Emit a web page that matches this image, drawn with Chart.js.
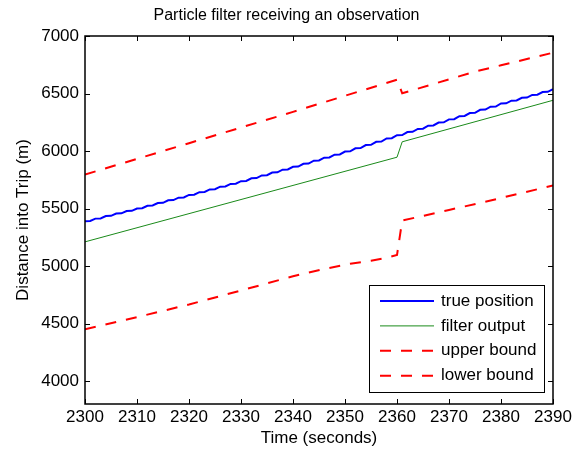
<!DOCTYPE html>
<html><head><meta charset="utf-8">
<script src="https://cdn.jsdelivr.net/npm/chart.js@4.4.1/dist/chart.umd.min.js"></script>
<style>html,body{margin:0;padding:0;background:#fff}#wrap{width:582px;height:454px}</style>
</head><body><div id="wrap"><canvas id="c" width="582" height="454"></canvas></div>
<script>
const xTicks = [2300,2310,2320,2330,2340,2350,2360,2370,2380,2390];
const yTicks = [4000,4500,5000,5500,6000,6500,7000];

const trueTime = [2300,2301,2302,2303,2304,2305,2306,2307,2308,2309,
  2310,2311,2312,2313,2314,2315,2316,2317,2318,2319,
  2320,2321,2322,2323,2324,2325,2326,2327,2328,2329,
  2330,2331,2332,2333,2334,2335,2336,2337,2338,2339,
  2340,2341,2342,2343,2344,2345,2346,2347,2348,2349,
  2350,2351,2352,2353,2354,2355,2356,2357,2358,2359,
  2360,2361,2362,2363,2364,2365,2366,2367,2368,2369,
  2370,2371,2372,2373,2374,2375,2376,2377,2378,2379,
  2380,2381,2382,2383,2384,2385,2386,2387,2388,2389,2390];
const truePosition = [5390,5392,5412,5414,5434,5436,5456,5458,5478,5480,
  5500,5502,5524,5526,5547,5549,5571,5573,5594,5596,
  5618,5620,5642,5644,5666,5668,5690,5692,5714,5716,
  5738,5740,5763,5765,5788,5790,5813,5815,5838,5840,
  5863,5865,5889,5891,5916,5918,5942,5944,5968,5970,
  5995,5997,6023,6025,6052,6054,6080,6082,6109,6111,
  6137,6139,6165,6167,6192,6194,6220,6222,6247,6249,
  6275,6277,6303,6305,6330,6332,6358,6360,6385,6387,
  6413,6415,6438,6440,6463,6465,6488,6490,6513,6515,6538];

const filterTime = [2300,2360,2361,2390];
const filterOutput = [5210,5946,6080,6441];

const upperTime = [2300,2320,2340,2360,2361,2375,2380,2390];
const upperBound = [5795,6068,6340,6620,6502,6690,6745,6855];

const lowerTime = [2300,2310,2320,2330,2340,2346,2351,2355,2358,2360,2361,2370,2378,2390];
const lowerBound = [4450,4555,4665,4787,4911,4974,5020,5045,5071,5095,5395,5487,5570,5700];

const FONT = "'Liberation Sans', Arial, Helvetica, sans-serif";
const zip = (xs, ys) => xs.map((x, i) => ({x: x, y: ys[i]}));

const frame = {
  id: 'frame',
  afterDatasetsDraw(chart) {
    const ctx = chart.ctx, a = chart.chartArea;
    const xs = chart.scales.x, ys = chart.scales.y;
    ctx.save();
    ctx.strokeStyle = '#000';
    ctx.lineWidth = 1;
    ctx.beginPath();
    xs.ticks.forEach(t => {
      const px = Math.round(xs.getPixelForValue(t.value)) + 0.5;
      ctx.moveTo(px, a.bottom); ctx.lineTo(px, a.bottom - 5);
      ctx.moveTo(px, a.top); ctx.lineTo(px, a.top + 5);
    });
    ys.ticks.forEach(t => {
      const py = Math.round(ys.getPixelForValue(t.value)) + 0.5;
      ctx.moveTo(a.left, py); ctx.lineTo(a.left + 5, py);
      ctx.moveTo(a.right, py); ctx.lineTo(a.right - 5, py);
    });
    ctx.stroke();
    ctx.lineWidth = 1.5;
    ctx.strokeRect(a.left, a.top, a.right - a.left, a.bottom - a.top);
    ctx.restore();
  }
};

const legendBox = {
  id: 'legendBox',
  afterDraw(chart) {
    const ctx = chart.ctx, a = chart.chartArea;
    const w = 175, h = 107;
    const x0 = a.right - 9 - w, y0 = a.bottom - 12 - h;
    ctx.save();
    ctx.fillStyle = '#fff';
    ctx.fillRect(x0, y0, w, h);
    ctx.strokeStyle = '#000';
    ctx.lineWidth = 1;
    ctx.strokeRect(Math.round(x0) + 0.5, Math.round(y0) + 0.5, w, h);
    ctx.font = '17px ' + FONT;
    ctx.textBaseline = 'middle';
    ctx.textAlign = 'left';
    chart.data.datasets.forEach((ds, i) => {
      const cy = y0 + 16 + i * 24.9;
      ctx.beginPath();
      ctx.strokeStyle = ds.borderColor;
      ctx.lineWidth = ds.borderWidth;
      ctx.setLineDash(ds.borderDash || []);
      ctx.moveTo(x0 + 11, cy); ctx.lineTo(x0 + 65, cy);
      ctx.stroke();
      ctx.setLineDash([]);
      ctx.fillStyle = '#000';
      ctx.fillText(ds.label, x0 + 72, cy);
    });
    ctx.restore();
  }
};

new Chart(document.getElementById('c'), {
  type: 'line',
  data: {
    datasets: [
      {label: 'true position', data: zip(trueTime, truePosition), borderColor: '#0000ff', borderWidth: 2, pointRadius: 0, tension: 0},
      {label: 'filter output', data: zip(filterTime, filterOutput), borderColor: '#1a8a1a', borderWidth: 1, pointRadius: 0, tension: 0},
      {label: 'upper bound', data: zip(upperTime, upperBound), borderColor: '#ff0000', borderWidth: 2, borderDash: [11, 10], pointRadius: 0, tension: 0},
      {label: 'lower bound', data: zip(lowerTime, lowerBound), borderColor: '#ff0000', borderWidth: 2, borderDash: [11, 10], pointRadius: 0, tension: 0}
    ]
  },
  options: {
    responsive: false,
    animation: false,
    layout: {padding: {left: 20, right: 29, top: 0, bottom: 0}},
    plugins: {
      legend: {display: false},
      tooltip: {enabled: false},
      title: {display: true, text: 'Particle filter receiving an observation', color: '#000',
        font: {family: FONT, size: 16, weight: 'normal', lineHeight: 1.2}, padding: {top: 6.4, bottom: 10.4}}
    },
    scales: {
      x: {
        type: 'linear', min: 2300, max: 2390,
        afterBuildTicks: s => { s.ticks = xTicks.map(v => ({value: v})); },
        afterFit: s => { s.height = 50; },
        ticks: {color: '#000', font: {family: FONT, size: 17}, padding: 3, maxRotation: 0, autoSkip: false, callback: v => String(v)},
        grid: {display: false, drawTicks: false},
        border: {display: false},
        title: {display: true, text: 'Time (seconds)', color: '#000', font: {family: FONT, size: 17, lineHeight: 1.2}, padding: {top: 0, bottom: 5.8}}
      },
      y: {
        type: 'linear', min: 3800, max: 7000,
        afterBuildTicks: s => { s.ticks = yTicks.map(v => ({value: v})); },
        afterFit: s => { s.width = 65; },
        ticks: {color: '#000', font: {family: FONT, size: 17}, padding: 6, autoSkip: false, callback: v => String(v)},
        grid: {display: false, drawTicks: false},
        border: {display: false},
        title: {display: true, text: 'Distance into Trip (m)', color: '#000', font: {family: FONT, size: 17, lineHeight: 0.35}, padding: {top: 0, bottom: 0}}
      }
    }
  },
  plugins: [frame, legendBox]
});
</script>
</body></html>
